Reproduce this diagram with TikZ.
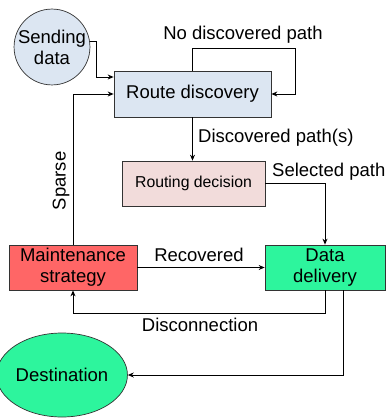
\documentclass[tikz,border=0pt]{standalone}
\usepackage{fontspec}
\setmainfont{Liberation Sans}
\usetikzlibrary{arrows.meta,shapes.geometric}
\definecolor{cblue}{HTML}{DCE6F2}
\definecolor{cpink}{HTML}{F2DCDB}
\definecolor{cred}{HTML}{FF6666}
\definecolor{cgreen}{HTML}{2DF59D}
\tikzset{
  box/.style={draw=black!80, line width=0.7pt, rectangle, align=center, inner sep=0pt,
    font=\fontsize{18.5}{21}\selectfont},
  lbl/.style={font=\fontsize{18.5}{21}\selectfont, inner sep=0pt},
  arr/.style={draw=black, line width=0.9pt, -{Stealth[length=6pt,width=5pt]}},
}
\begin{document}
\begin{tikzpicture}[x=1pt,y=-1pt]
\useasboundingbox (0,0) rectangle (387,420);
\node[box, circle, fill=cblue, minimum size=75pt] (send) at (52,47) {Sending\\data};
\node[box, fill=cblue, minimum width=157pt, minimum height=46pt] (route) at (192.5,94) {Route discovery};
\node[box, fill=cpink, minimum width=143pt, minimum height=45pt, font=\fontsize{15.8}{18}\selectfont] (decide) at (193.5,183.5) {Routing decision};
\node[box, fill=cred, minimum width=128pt, minimum height=45pt] (maint) at (73,267.5) {Maintenance\\strategy};
\node[box, fill=cgreen, minimum width=120pt, minimum height=45pt] (deliver) at (325,267.5) {Data\\delivery};
\node[box, ellipse, fill=cgreen, minimum width=102pt, minimum height=84pt] (dest) at (62,375) {Destination};

\coordinate (loop) at (295,48);
\coordinate (disc) at (325,313);

\draw[arr] (send.8) -| ([xshift=-17pt,yshift=17pt]route.west) -- ([yshift=17pt]route.west);
\draw[arr] (maint.north) |- (route.west);
\draw[arr] (route.north) |- (loop) |- (route.east);
\draw[arr] (route.south) -- (route.south |- decide.north);
\draw[arr] (decide.east) -| (deliver.north);
\draw[arr] (maint.east) -- (deliver.west);
\draw[arr] (deliver.south) -- (disc) -| (maint.south);
\draw[arr] ([xshift=18pt]deliver.south) |- (dest.east);

\node[lbl] (l1) at (243,35) {No discovered path};
\node[lbl, anchor=west] (l2) at (198,138) {Discovered path(s)};
\node[lbl, anchor=west] (l3) at (272,172) {Selected path};
\node[lbl, rotate=90] (l4) at (61,181) {Sparse};
\node[lbl] (l5) at (199,255) {Recovered};
\node[lbl] (l6) at (200,325) {Disconnection};
\end{tikzpicture}
\end{document}
